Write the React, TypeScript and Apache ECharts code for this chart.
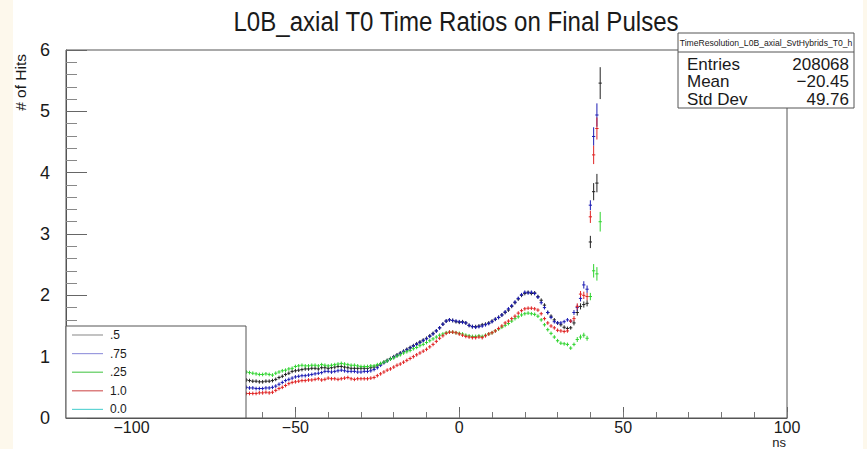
import React, { useEffect, useRef } from "react";
import * as echarts from "echarts";

const FONT = "'Liberation Sans', Arial, Helvetica, sans-serif";

// bins are 1 ns wide, first bin centre at -65 ns
const binStart = -65;

const seriesNames = [".5", ".75", ".25", "1.0", "0.0"];

const hitsHalf = [
  0.62, 0.61, 0.60, 0.60, 0.59, 0.59, 0.60, 0.60, 0.61, 0.63,
  0.66, 0.68, 0.71, 0.73, 0.76, 0.77, 0.78, 0.79, 0.80, 0.80,
  0.81, 0.81, 0.80, 0.82, 0.82, 0.81, 0.82, 0.83, 0.84, 0.84,
  0.83, 0.82, 0.81, 0.81, 0.81, 0.81, 0.81, 0.81, 0.82, 0.83,
  0.85, 0.88, 0.91, 0.94, 0.97, 1.00, 1.03, 1.06, 1.09, 1.12,
  1.15, 1.18, 1.21, 1.24, 1.27, 1.30, 1.34, 1.38, 1.42, 1.47,
  1.53, 1.58, 1.60, 1.59, 1.57, 1.56, 1.57, 1.55, 1.51, 1.49,
  1.49, 1.50, 1.52, 1.53, 1.55, 1.58, 1.61, 1.64, 1.68, 1.72,
  1.76, 1.82, 1.88, 1.94, 2.00, 2.03, 2.05, 2.03, 2.04, 1.98,
  1.92, 1.84, 1.72, 1.66, 1.60, 1.55, 1.52, 1.48, 1.46, 1.47,
  1.55, 1.72, 1.82, 1.85, 1.87, 2.87, 3.69, 3.83, 5.46,
];

const hitsThreeQuarter = [
  0.50, 0.49, 0.49, 0.48, 0.48, 0.48, 0.49, 0.49, 0.50, 0.52,
  0.55, 0.58, 0.61, 0.63, 0.65, 0.67, 0.68, 0.69, 0.69, 0.70,
  0.71, 0.72, 0.73, 0.74, 0.76, 0.76, 0.75, 0.76, 0.77, 0.78,
  0.77, 0.76, 0.76, 0.76, 0.75, 0.75, 0.76, 0.76, 0.77, 0.79,
  0.82, 0.86, 0.90, 0.93, 0.96, 0.99, 1.02, 1.05, 1.08, 1.11,
  1.14, 1.17, 1.20, 1.23, 1.26, 1.29, 1.33, 1.37, 1.42, 1.47,
  1.53, 1.58, 1.60, 1.59, 1.58, 1.57, 1.56, 1.55, 1.51, 1.49,
  1.48, 1.49, 1.50, 1.52, 1.54, 1.57, 1.61, 1.64, 1.68, 1.73,
  1.78, 1.83, 1.89, 1.95, 2.01, 2.05, 2.04, 2.05, 2.03, 1.97,
  1.88, 1.80, 1.72, 1.64, 1.57, 1.55, 1.55, 1.57, 1.60, 1.58,
  1.72, 1.80, 1.95, 2.17, 2.10, 3.47, 4.59, 4.94, null,
];

const hitsQuarter = [
  0.75, 0.74, 0.73, 0.72, 0.71, 0.71, 0.72, 0.71, 0.70, 0.73,
  0.75, 0.77, 0.78, 0.80, 0.81, 0.84, 0.85, 0.86, 0.85, 0.85,
  0.86, 0.86, 0.85, 0.87, 0.86, 0.85, 0.86, 0.87, 0.88, 0.89,
  0.88, 0.87, 0.86, 0.86, 0.85, 0.84, 0.84, 0.84, 0.85, 0.85,
  0.87, 0.89, 0.91, 0.93, 0.96, 0.98, 1.01, 1.03, 1.06, 1.08,
  1.10, 1.13, 1.15, 1.18, 1.20, 1.23, 1.26, 1.29, 1.32, 1.35,
  1.37, 1.39, 1.40, 1.40, 1.39, 1.38, 1.37, 1.35, 1.34, 1.33,
  1.33, 1.34, 1.33, 1.35, 1.37, 1.39, 1.42, 1.45, 1.48, 1.51,
  1.54, 1.58, 1.62, 1.65, 1.68, 1.70, 1.71, 1.70, 1.69, 1.66,
  1.60, 1.52, 1.44, 1.38, 1.32, 1.26, 1.22, 1.21, 1.20, 1.14,
  1.20, 1.28, 1.32, 1.35, 1.30, 1.98, 2.40, 2.35, 3.20,
];

const hitsOne = [
  0.40, 0.40, 0.40, 0.40, 0.41, 0.41, 0.42, 0.41, 0.42, 0.45,
  0.48, 0.50, 0.53, 0.56, 0.58, 0.59, 0.60, 0.61, 0.61, 0.62,
  0.62, 0.63, 0.64, 0.62, 0.63, 0.65, 0.64, 0.64, 0.63, 0.64,
  0.65, 0.66, 0.64, 0.63, 0.64, 0.64, 0.64, 0.64, 0.65, 0.66,
  0.69, 0.72, 0.75, 0.78, 0.80, 0.83, 0.86, 0.88, 0.91, 0.94,
  0.97, 1.00, 1.03, 1.06, 1.09, 1.12, 1.16, 1.20, 1.25, 1.30,
  1.34, 1.38, 1.40, 1.40, 1.39, 1.37, 1.35, 1.33, 1.32, 1.31,
  1.31, 1.32, 1.31, 1.34, 1.37, 1.39, 1.42, 1.46, 1.50, 1.55,
  1.58, 1.62, 1.66, 1.71, 1.75, 1.78, 1.79, 1.79, 1.78, 1.76,
  1.70, 1.62, 1.55, 1.50, 1.47, 1.43, 1.42, 1.41, 1.42, 1.58,
  1.62, 1.82, 2.02, 2.00, 1.98, 3.28, 4.29, 4.72, null,
];

const hitsZero: (number | null)[] = [];

// error bars: small in the body, read individually for the last nine bins (35..43 ns)
const bodyError = 0.03;
const tailStart = 35;
const tailErrHalf = [0.04, 0.05, 0.05, 0.05, 0.05, 0.1, 0.14, 0.15, 0.26];
const tailErrThreeQuarter = [0.04, 0.05, 0.05, 0.06, 0.06, 0.08, 0.15, 0.19, 0];
const tailErrQuarter = [0.03, 0.04, 0.04, 0.04, 0.04, 0.06, 0.11, 0.11, 0.16];
const tailErrOne = [0.04, 0.05, 0.05, 0.06, 0.06, 0.1, 0.15, 0.18, 0];
const tailErrZero: number[] = [];

const markerColors = ["#222222", "#1c1cb4", "#2fd42f", "#e02424", "#2fd4d4"];
const legendColors = ["#9a9a9a", "#9a9ade", "#5ccc5c", "#d46060", "#60d4d4"];

const xMajorTicks = [-100, -50, 0, 50, 100];

const chartTitle = "L0B_axial T0 Time Ratios on Final Pulses";
const statsTitle = "TimeResolution_L0B_axial_SvtHybrids_T0_h";
const statsLabels = ["Entries", "Mean", "Std Dev"];
const statsValues = ["208068", "\u221220.45", "49.76"];

const OFFSET_X = 13; // white canvas starts 13px in from the page edge

function buildData(values: (number | null)[], tailErr: number[]) {
  const out: number[][] = [];
  values.forEach((v, i) => {
    if (v === null || v === undefined) return;
    const x = binStart + i;
    const e = x >= tailStart ? tailErr[x - tailStart] ?? bodyError : bodyError;
    out.push([x, v, e]);
  });
  return out;
}

export default function App() {
  const ref = useRef<HTMLDivElement>(null);

  useEffect(() => {
    document.body.style.margin = "0";
    if (!ref.current) return;
    const chart = echarts.init(ref.current, undefined, { renderer: "svg" });

    const allValues = [hitsHalf, hitsThreeQuarter, hitsQuarter, hitsOne, hitsZero];
    const allErrs = [tailErrHalf, tailErrThreeQuarter, tailErrQuarter, tailErrOne, tailErrZero];

    const series = seriesNames.map((name, si) => ({
      name,
      type: "custom",
      xAxisIndex: 0,
      yAxisIndex: 0,
      clip: true,
      z: 2,
      itemStyle: { color: legendColors[si] },
      encode: { x: 0, y: 1 },
      data: buildData(allValues[si], allErrs[si]),
      renderItem: (params: any, api: any) => {
        const x = api.value(0);
        const y = api.value(1);
        const e = api.value(2);
        const l = api.coord([x - 0.5, y]);
        const r = api.coord([x + 0.5, y]);
        const t = api.coord([x, y + e]);
        const b = api.coord([x, y - e]);
        const st = { stroke: markerColors[si], lineWidth: 1 };
        return {
          type: "group",
          children: [
            { type: "line", shape: { x1: l[0], y1: l[1], x2: r[0], y2: r[1] }, style: st },
            { type: "line", shape: { x1: t[0], y1: t[1], x2: b[0], y2: b[1] }, style: st },
          ],
        };
      },
    }));

    const W = 850;
    const gridLeft = 66 - OFFSET_X;
    const gridRight = W - (787 - OFFSET_X);

    const statsX = 678 - OFFSET_X;
    const statsW = 176;

    const option: any = {
      animation: false,
      backgroundColor: "#ffffff",
      textStyle: { fontFamily: FONT },
      grid: {
        left: gridLeft,
        right: gridRight,
        top: 50,
        bottom: 31,
        show: true,
        borderColor: "#555",
        borderWidth: 1,
        backgroundColor: "transparent",
      },
      xAxis: [
        {
          type: "value",
          min: -120,
          max: 100,
          position: "bottom",
          axisLine: { show: true, onZero: false, lineStyle: { color: "#555", width: 1 } },
          axisTick: { show: true, inside: true, length: 11, customValues: xMajorTicks, lineStyle: { color: "#666" } },
          axisLabel: {
            show: true,
            customValues: xMajorTicks,
            margin: 1,
            fontFamily: FONT,
            fontSize: 16,
            lineHeight: 16,
            color: "#1a1a1a",
            formatter: (v: number) => String(v).replace("-", "\u2212"),
          },
          splitLine: { show: false },
        },
        {
          type: "value",
          min: -120,
          max: 100,
          interval: 10,
          position: "bottom",
          axisLine: { show: false, onZero: false },
          axisTick: { show: true, inside: true, length: 6, lineStyle: { color: "#777" } },
          axisLabel: { show: false },
          splitLine: { show: false },
        },
      ],
      yAxis: {
        type: "value",
        min: 0,
        max: 6,
        interval: 1,
        axisLine: { show: true, onZero: false, lineStyle: { color: "#555", width: 1 } },
        axisTick: { show: true, inside: true, length: 21, lineStyle: { color: "#666" } },
        minorTick: { show: true, splitNumber: 5, length: 11, lineStyle: { color: "#888" } },
        axisLabel: { margin: 16, fontFamily: FONT, fontSize: 18, color: "#1a1a1a" },
        splitLine: { show: false },
      },
      legend: {
        orient: "vertical",
        left: 72 - OFFSET_X,
        top: 328,
        padding: 0,
        itemGap: 4.6,
        itemWidth: 31,
        itemHeight: 1.2,
        icon: "rect",
        z: 20,
        selectedMode: false,
        textStyle: { fontFamily: FONT, fontSize: 12, lineHeight: 14, color: "#1a1a1a", padding: [0, 0, 0, 2] },
        data: seriesNames.map((n, i) => ({ name: n, itemStyle: { color: legendColors[i] } })),
      },
      graphic: [
        {
          type: "text",
          z: 15,
          x: 456 - OFFSET_X,
          y: 21,
          scaleX: 0.86,
          style: {
            text: chartTitle,
            fontFamily: FONT,
            fontSize: 28,
            fill: "#1a1a1a",
            align: "center",
            verticalAlign: "middle",
          },
        },
        {
          type: "rect",
          z: 15,
          shape: { x: 66 - OFFSET_X, y: 326, width: 180, height: 92 },
          style: { fill: "#ffffff", stroke: "#555", lineWidth: 1 },
        },
        {
          type: "text",
          z: 15,
          x: 20 - OFFSET_X,
          y: 54,
          rotation: Math.PI / 2,
          style: {
            text: "# of Hits",
            fontFamily: FONT,
            fontSize: 15.5,
            fill: "#1a1a1a",
            align: "right",
            verticalAlign: "middle",
          },
        },
        {
          type: "text",
          z: 15,
          x: 786 - OFFSET_X,
          y: 442.5,
          style: {
            text: "ns",
            fontFamily: FONT,
            fontSize: 13,
            fill: "#1a1a1a",
            align: "right",
            verticalAlign: "middle",
          },
        },
        {
          type: "group",
          z: 15,
          children: [
            {
              type: "rect",
              z: 15,
              shape: { x: statsX, y: 33, width: statsW, height: 75 },
              style: { fill: "#ffffff", stroke: "#555", lineWidth: 1 },
            },
            {
              type: "line",
              z: 16,
              shape: { x1: statsX, y1: 52, x2: statsX + statsW, y2: 52 },
              style: { stroke: "#555", lineWidth: 1 },
            },
            {
              type: "text",
              z: 16,
              x: statsX + statsW / 2,
              y: 43,
              style: {
                text: statsTitle,
                fontFamily: FONT,
                fontSize: 8.6,
                fill: "#1a1a1a",
                align: "center",
                verticalAlign: "middle",
              },
            },
            ...statsLabels.map((lab, i) => ({
              type: "text",
              z: 16,
              x: statsX + 9,
              y: 64 + i * 17.5,
              style: {
                text: lab,
                fontFamily: FONT,
                fontSize: 17,
                fill: "#1a1a1a",
                align: "left",
                verticalAlign: "middle",
              },
            })),
            ...statsValues.map((val, i) => ({
              type: "text",
              z: 16,
              x: statsX + statsW - 5,
              y: 64 + i * 17.5,
              style: {
                text: val,
                fontFamily: FONT,
                fontSize: 17,
                fill: "#1a1a1a",
                align: "right",
                verticalAlign: "middle",
              },
            })),
          ],
        },
      ],
      series,
    };

    chart.setOption(option);
    return () => chart.dispose();
  }, []);

  return (
    <div
      style={{
        position: "fixed",
        left: 0,
        top: 0,
        width: 867,
        height: 449,
        background: "#fdf8ec",
      }}
    >
      <div
        ref={ref}
        style={{ position: "absolute", left: OFFSET_X, top: 0, width: 850, height: 449, background: "#ffffff" }}
      />
    </div>
  );
}
